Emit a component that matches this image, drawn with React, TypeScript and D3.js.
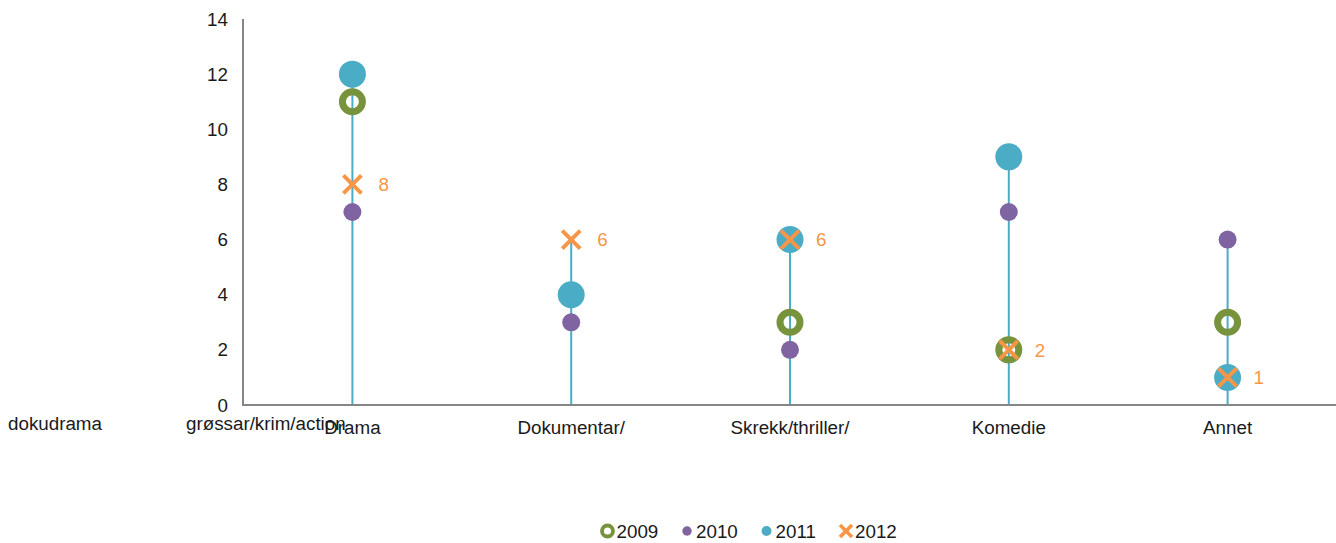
import React from "react";
import * as d3 from "d3";

const categories = ["Drama", "Dokumentar/", "Skrekk/thriller/", "Komedie", "Annet"];
const strayLabels = [
  { text: "dokudrama", x: 8 },
  { text: "grøssar/krim/action", x: 186 },
];
const years = ["2009", "2010", "2011", "2012"];
const s2009: (number | null)[] = [11, null, 3, 2, 3];
const s2010: (number | null)[] = [7, 3, 2, 7, 6];
const s2011: (number | null)[] = [12, 4, 6, 9, 1];
const s2012: (number | null)[] = [8, 6, 6, 2, 1];
const yTicks = [0, 2, 4, 6, 8, 10, 12, 14];

const COLORS: Record<string, string> = {
  "2009": "#77933C",
  "2010": "#8064A2",
  "2011": "#4BACC6",
  "2012": "#F79646",
};

const W = 1336;
const H = 543;
const M = { left: 243, right: 1337, top: 19, bottom: 405 };
const FONT = "'Liberation Sans', Arial, sans-serif";
const FS = 18.8;

function Marker({ year, cx, cy, legend }: { year: string; cx: number; cy: number; legend?: boolean }) {
  const c = COLORS[year];
  const k = legend ? 0.55 : 1;
  if (year === "2009")
    return <circle cx={cx} cy={cy} r={10 * k} fill="none" stroke={c} strokeWidth={7 * k} />;
  if (year === "2010") return <circle cx={cx} cy={cy} r={legend ? 4.7 : 9} fill={c} />;
  if (year === "2011") return <circle cx={cx} cy={cy} r={legend ? 5 : 13.5} fill={c} />;
  const a = legend ? 6 : 9;
  return (
    <g stroke={c} strokeWidth={legend ? 3.5 : 4}>
      <line x1={cx - a} y1={cy - a} x2={cx + a} y2={cy + a} />
      <line x1={cx - a} y1={cy + a} x2={cx + a} y2={cy - a} />
    </g>
  );
}

export default function App() {
  const x = d3.scaleBand<string>().domain(categories).range([M.left, M.right]);
  const y = d3.scaleLinear().domain([0, 14]).range([M.bottom, M.top]);
  const series: Record<string, (number | null)[]> = {
    "2009": s2009,
    "2010": s2010,
    "2011": s2011,
    "2012": s2012,
  };
  const drawOrder = ["2011", "2010", "2009", "2012"];
  const cx = (c: string) => (x(c) as number) + x.bandwidth() / 2;

  const legendStart = 607.5;
  const legendStep = 79.5;

  return (
    <svg
      width={W}
      height={H}
      style={{ position: "absolute", left: 0, top: 0 }}
      fontFamily={FONT}
    >
      {/* drop lines */}
      {categories.map((c, i) => {
        const vals = years.map((yr) => series[yr][i]).filter((v) => v != null) as number[];
        const mx = d3.max(vals) as number;
        return (
          <line key={c} x1={cx(c)} x2={cx(c)} y1={y(mx)} y2={y(0)} stroke="#4BACC6" strokeWidth={2} />
        );
      })}
      {/* axes */}
      <line x1={M.left} x2={M.left} y1={M.top} y2={M.bottom} stroke="#868686" strokeWidth={2} />
      <line x1={M.left - 1} x2={M.right} y1={M.bottom} y2={M.bottom} stroke="#868686" strokeWidth={2} />
      {yTicks.map((t) => (
        <text key={t} x={228} y={y(t) + 6.5} textAnchor="end" fontSize={FS} fill="#1a1a1a">
          {t}
        </text>
      ))}
      {categories.map((c) => (
        <text key={c} x={cx(c)} y={434} textAnchor="middle" fontSize={FS} fill="#1a1a1a">
          {c}
        </text>
      ))}
      {strayLabels.map((s) => (
        <text key={s.text} x={s.x} y={430} fontSize={FS} fill="#1a1a1a">
          {s.text}
        </text>
      ))}
      {/* markers */}
      {drawOrder.map((yr) =>
        categories.map((c, i) => {
          const v = series[yr][i];
          if (v == null) return null;
          return <Marker key={yr + c} year={yr} cx={cx(c)} cy={y(v)} />;
        })
      )}
      {/* data labels for 2012 */}
      {categories.map((c, i) => {
        const v = s2012[i];
        if (v == null) return null;
        return (
          <text key={"l" + c} x={cx(c) + 26} y={y(v) + 6.8} fontSize={FS} fill="#F79646">
            {v}
          </text>
        );
      })}
      {/* legend */}
      {years.map((yr, i) => {
        const mx = legendStart + i * legendStep;
        return (
          <g key={yr}>
            <Marker year={yr} cx={mx} cy={531} legend />
            <text x={mx + 9} y={537.8} fontSize={FS} fill="#1a1a1a">
              {yr}
            </text>
          </g>
        );
      })}
    </svg>
  );
}
